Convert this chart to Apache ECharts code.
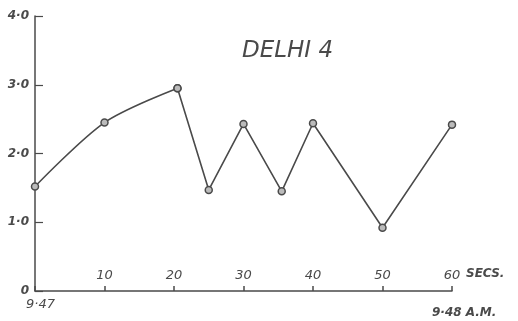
<!DOCTYPE html>
<html>
<head>
<meta charset="utf-8">
<script src="https://cdn.jsdelivr.net/npm/echarts@6/dist/echarts.min.js"></script>
<style>
  html, body { margin: 0; padding: 0; background: #fff; }
  #chart { width: 518px; height: 321px; }
</style>
</head>
<body>
<div id="chart"></div>
<script>
// seconds after 9.47 and the plotted values
var secs = [0, 10, 20.5, 25, 30, 35.5, 40, 50, 60];
var values = [1.52, 2.45, 2.95, 1.47, 2.43, 1.45, 2.44, 0.92, 2.42];
var xTickLabels = ["", "10", "20", "30", "40", "50", "60"];
var yTickLabels = ["0", "1·0", "2·0", "3·0", "4·0"];

var ink = "#4a4a4a";
var font = "'DejaVu Sans', sans-serif";

// first three points are joined by a curve, the rest by straight lines
var curvePart = [];
var straightPart = [];
for (var i = 0; i < secs.length; i++) {
    if (i <= 2) curvePart.push([secs[i], values[i]]);
    if (i >= 2) straightPart.push([secs[i], values[i]]);
}

var chart = echarts.init(document.getElementById("chart"));
chart.setOption({
    backgroundColor: "#fff",
    animation: false,
    grid: { left: 35, right: 66, top: 16, bottom: 30 },
    xAxis: {
        type: "value",
        min: 0,
        max: 60,
        interval: 10,
        axisLine: { show: true, lineStyle: { color: ink, width: 1.5 } },
        axisTick: { show: true, inside: true, length: 5, lineStyle: { color: ink, width: 1.5 } },
        splitLine: { show: false },
        axisLabel: {
            inside: true,
            margin: 9,
            color: ink,
            fontFamily: font,
            fontStyle: "italic",
            fontSize: 13,
            formatter: function (v) { return xTickLabels[v / 10]; }
        }
    },
    yAxis: {
        type: "value",
        min: 0,
        max: 4,
        interval: 1,
        axisLine: { show: true, lineStyle: { color: ink, width: 1.5 } },
        axisTick: { show: true, inside: true, length: 8, lineStyle: { color: ink, width: 1.2 } },
        splitLine: { show: false },
        axisLabel: {
            margin: 6,
            color: ink,
            fontFamily: font,
            fontStyle: "italic",
            fontWeight: "bold",
            fontSize: 12,
            formatter: function (v) { return yTickLabels[v]; }
        }
    },
    graphic: [
        {
            type: "text", left: 242, top: 40,
            style: { text: "DELHI 4", fill: ink, font: "italic 23px " + font }
        },
        {
            type: "text", left: 466, top: 268,
            style: { text: "SECS.", fill: ink, font: "italic bold 12px " + font }
        },
        {
            type: "text", left: 26, top: 298,
            style: { text: "9·47", fill: ink, font: "italic 13px " + font }
        },
        {
            type: "text", left: 432, top: 307,
            style: { text: "9·48 A.M.", fill: ink, font: "italic bold 12px " + font }
        }
    ],
    series: [
        {
            type: "line",
            data: curvePart,
            smooth: 0.3,
            symbol: "circle",
            symbolSize: 7,
            itemStyle: { color: "#bbb", borderColor: ink, borderWidth: 1.5 },
            lineStyle: { color: ink, width: 1.6 }
        },
        {
            type: "line",
            data: straightPart,
            smooth: false,
            symbol: "circle",
            symbolSize: 7,
            itemStyle: { color: "#bbb", borderColor: ink, borderWidth: 1.5 },
            lineStyle: { color: ink, width: 1.6 }
        }
    ]
});
</script>
</body>
</html>
